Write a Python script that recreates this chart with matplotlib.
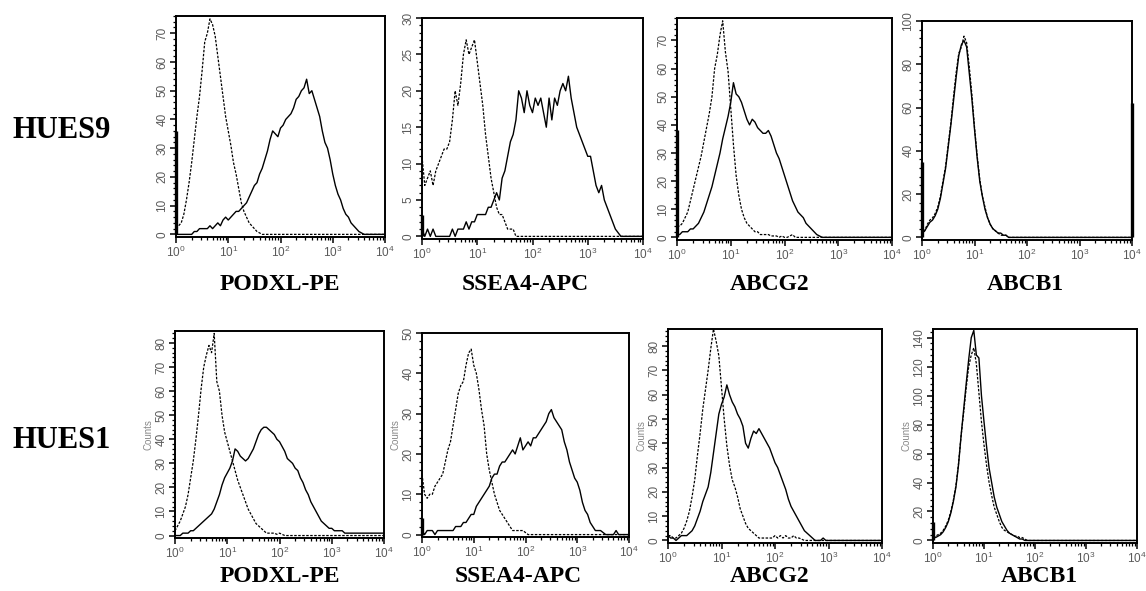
import numpy as np
import matplotlib
matplotlib.use('Agg')
import matplotlib.pyplot as plt
from matplotlib.ticker import LogLocator, MultipleLocator, NullFormatter

W, H = 1146, 591

# bin centres of the exported histograms, in log10 units (10^0 .. 10^4)
log_bins = np.round(np.arange(0, 4.001, 0.05), 2)

# HUES9 -- dashed = isotype control, solid = stained
podxl_h9_iso = [2, 3, 4, 7, 12, 18, 25, 33, 41, 48, 57, 67, 70, 75, 73, 69, 62, 55, 48, 41,
                36, 31, 25, 21, 16, 11, 8, 6, 4, 3, 2, 1, 0.5]
podxl_h9_pos = [0, 0, 0, 0, 0, 0, 0, 1, 1, 2, 2, 2, 2, 3, 2, 3, 4, 3, 5, 6, 5, 6, 7, 8, 8, 9, 10,
                11, 13, 15, 17, 18, 21, 23, 26, 29, 33, 36, 35, 34, 37, 38, 40, 41, 42, 44, 47,
                48, 50, 51, 54, 49, 50, 47, 44, 41, 36, 32, 30, 26, 21, 17, 14, 12, 9, 7, 6,
                4, 3, 2, 1, 0.5]
ssea4_h9_iso = [11, 7, 8, 9, 7, 9, 10, 11, 12, 12, 13, 16, 20, 18, 21, 25, 27, 25, 26, 27,
                24, 21, 18, 14, 11, 8, 6, 4, 3, 3, 2, 1, 1, 1]
ssea4_h9_pos = [1, 0, 1, 0, 1, 0, 0, 0, 0, 0, 0, 1, 0, 1, 1, 1, 2, 1, 2, 2, 3, 3, 3, 3, 4, 4,
                5, 6, 5, 8, 9, 11, 13, 14, 16, 20, 19, 17, 20, 18, 17, 19, 18, 19, 17, 15, 19,
                16, 19, 18, 20, 21, 20, 22, 19, 17, 15, 14, 13, 12, 11, 11, 9, 7, 6, 7, 5, 4,
                3, 2, 1, 0.5]
abcg2_h9_iso = [4, 4, 5, 7, 9, 13, 17, 21, 25, 29, 34, 39, 44, 50, 60, 65, 72, 77, 66, 59,
                46, 33, 22, 15, 10, 7, 5, 4, 3, 2, 2, 1, 1, 1, 1, 0.5, 0.5, 0.5, 0, 0.5, 0, 0,
                0.5, 1]
abcg2_h9_pos = [1, 1, 2, 2, 2, 3, 3, 4, 5, 7, 9, 12, 15, 18, 22, 26, 30, 35, 39, 43, 48, 55,
                51, 50, 48, 45, 42, 40, 42, 41, 39, 38, 37, 37, 38, 36, 33, 30, 28, 25, 22, 19,
                16, 13, 11, 9, 8, 7, 5, 4, 3, 2, 1, 0.5]
abcb1_h9_iso = [1, 3, 6, 8, 9, 11, 14, 19, 26, 33, 43, 53, 65, 76, 85, 88, 93, 90, 79, 66,
                51, 38, 27, 19, 14, 9, 6, 4, 3, 2, 1, 1, 1]
abcb1_h9_pos = [2, 3, 5, 7, 8, 10, 13, 18, 25, 32, 42, 52, 63, 74, 84, 89, 91, 88, 76, 64,
                50, 37, 26, 19, 13, 9, 6, 4, 3, 2, 2, 1, 1]

# HUES1
podxl_h1_iso = [2, 4, 6, 9, 12, 17, 24, 31, 40, 50, 61, 70, 75, 79, 76, 84, 64, 60, 50, 43,
                39, 35, 31, 27, 23, 20, 17, 14, 11, 9, 7, 5, 4, 3, 2, 1, 1, 1, 1, 0.5, 1, 0.5]
podxl_h1_pos = [0, 0, 0, 1, 1, 1, 2, 2, 3, 4, 5, 6, 7, 8, 9, 11, 14, 17, 21, 24, 26, 28, 31,
                36, 35, 33, 32, 31, 32, 34, 36, 39, 42, 44, 45, 45, 44, 43, 42, 40, 39, 37, 35,
                32, 31, 30, 28, 27, 24, 22, 19, 17, 14, 12, 10, 8, 6, 5, 4, 3, 3, 2, 2, 2, 2,
                1, 1, 1, 1, 1, 1, 1, 1, 1, 1, 1, 1, 1, 1, 1, 1]
ssea4_h1_iso = [15, 10, 9, 10, 10, 12, 13, 14, 15, 18, 21, 23, 27, 31, 35, 37, 38, 42, 45, 46,
                42, 40, 36, 31, 27, 20, 16, 13, 10, 8, 6, 5, 4, 3, 2, 1, 1, 1, 1, 1, 0.5]
ssea4_h1_pos = [1, 0, 1, 1, 1, 0, 1, 1, 1, 1, 1, 1, 1, 2, 2, 2, 3, 3, 4, 5, 5, 7, 8, 9, 10,
                11, 12, 14, 15, 15, 17, 18, 18, 19, 20, 21, 20, 22, 24, 21, 22, 23, 22, 24, 24,
                25, 26, 27, 28, 30, 31, 29, 28, 27, 26, 23, 21, 18, 16, 14, 13, 11, 8, 6, 5, 3,
                2, 1, 1, 1, 0.5, 0, 0, 0, 0, 1]
abcg2_h1_iso = [2, 2, 1, 1, 2, 3, 5, 8, 12, 18, 25, 35, 44, 54, 62, 70, 79, 87, 82, 76, 63,
                50, 39, 31, 25, 22, 18, 13, 10, 7, 5, 4, 3, 2, 1, 1, 1, 1, 1, 1, 2, 1, 2, 1, 2,
                1, 1, 2, 1, 1, 0.5]
abcg2_h1_pos = [2, 1, 1, 0, 1, 2, 2, 2, 3, 4, 6, 9, 12, 16, 19, 22, 28, 36, 44, 52, 56, 59,
                64, 60, 57, 55, 52, 50, 47, 40, 38, 42, 45, 44, 46, 44, 42, 40, 38, 35, 32, 30,
                27, 24, 21, 17, 14, 12, 10, 8, 6, 4, 3, 2, 1, 0, 0, 0, 1, 0]
abcb1_h1_iso = [2, 3, 4, 5, 7, 10, 14, 20, 28, 38, 53, 72, 88, 105, 120, 128, 133, 122, 102,
                82, 66, 52, 40, 31, 23, 18, 13, 9, 7, 6, 5, 4, 3, 3, 2, 2, 1]
abcb1_h1_pos = [3, 2, 3, 4, 6, 9, 13, 19, 27, 37, 52, 72, 90, 108, 125, 140, 145, 128, 126,
                100, 82, 65, 50, 40, 30, 23, 18, 13, 10, 7, 5, 4, 3, 2, 1, 1]

# counts piled up in the first / last channel
first_channel = [36, 3, 38, 35, 0, 4, 0, 13]
last_channel = [0, 0, 0, 62, 0, 0, 0, 0]

markers = ['PODXL-PE', 'SSEA4-APC', 'ABCG2', 'ABCB1']
lines = ['HUES9', 'HUES1']

isos = [podxl_h9_iso, ssea4_h9_iso, abcg2_h9_iso, abcb1_h9_iso,
        podxl_h1_iso, ssea4_h1_iso, abcg2_h1_iso, abcb1_h1_iso]
stains = [podxl_h9_pos, ssea4_h9_pos, abcg2_h9_pos, abcb1_h9_pos,
          podxl_h1_pos, ssea4_h1_pos, abcg2_h1_pos, abcb1_h1_pos]

# layout in pixels: left, right, top, bottom
boxes = [(176, 385, 16, 237), (422, 643, 18, 239), (677, 892, 18, 240), (922, 1132, 21, 240),
         (175, 384, 331, 538), (422, 629, 333, 537), (668, 882, 329, 543), (933, 1137, 329, 543)]
ymax = [76, 30, 78, 100, 85, 50, 87, 146]
ymajor = [10, 5, 10, 20, 10, 10, 10, 20]
yminor = [2, 1, 2, 4, 2, 2, 2, 4]
label_x = [[280, 525, 770, 1025], [280, 518, 770, 1039]]
label_y = [284, 577]

tick_gray = '#5a5a5a'
plt.rcParams['font.family'] = ['Liberation Sans', 'DejaVu Sans']

fig = plt.figure(figsize=(W / 100, H / 100), dpi=100)


def pad(vals):
    return np.array(list(vals) + [0] * (len(log_bins) - len(vals)), dtype=float)


xs = 10 ** log_bins
for i in range(8):
    l, r, t, b = boxes[i]
    ax = fig.add_axes([l / W, 1 - b / H, (r - l) / W, (b - t) / H])
    ax.plot(xs, pad(isos[i]), color='black', lw=0.9, ls=(0, (2.0, 1.2)))
    ax.plot(xs, pad(stains[i]), color='black', lw=1.0)
    if first_channel[i]:
        ax.vlines(1, 0, first_channel[i], color='black', lw=2.4, clip_on=False)
    if last_channel[i]:
        ax.vlines(1e4, 0, last_channel[i], color='black', lw=2.4, clip_on=False)

    ax.set_xscale('log')
    ax.set_xlim(1, 1e4)
    ax.set_ylim(-0.012 * ymax[i], ymax[i])
    ax.xaxis.set_major_locator(LogLocator(base=10, numticks=6))
    ax.xaxis.set_minor_locator(LogLocator(base=10, subs=np.arange(2, 10), numticks=12))
    ax.xaxis.set_minor_formatter(NullFormatter())
    ax.yaxis.set_major_locator(MultipleLocator(ymajor[i]))
    ax.yaxis.set_minor_locator(MultipleLocator(yminor[i]))

    for s in ax.spines.values():
        s.set_linewidth(1.4)
    ax.tick_params(which='major', direction='out', length=4, width=1.1, color='black',
                   labelsize=8.5, labelcolor=tick_gray, pad=1.5)
    ax.tick_params(which='minor', direction='out', length=2.5, width=0.9, color='black')
    ax.tick_params(axis='y', labelrotation=90)
    for lab in ax.get_yticklabels():
        lab.set_verticalalignment('center')

    if i >= 4:
        ax.set_ylabel('Counts', fontsize=7, color='#888888', labelpad=1)

    row, col = divmod(i, 4)
    fig.text(label_x[row][col] / W, 1 - label_y[row] / H, markers[col],
             ha='center', va='center', fontsize=17, fontweight='bold',
             family=['Liberation Serif', 'DejaVu Serif'])

for row, name in enumerate(lines):
    fig.text(62 / W, 1 - [131, 441][row] / H, name, ha='center', va='center',
             fontsize=22, fontweight='bold', family=['Liberation Serif', 'DejaVu Serif'])

fig.savefig('out.png', dpi=100, facecolor='white')
